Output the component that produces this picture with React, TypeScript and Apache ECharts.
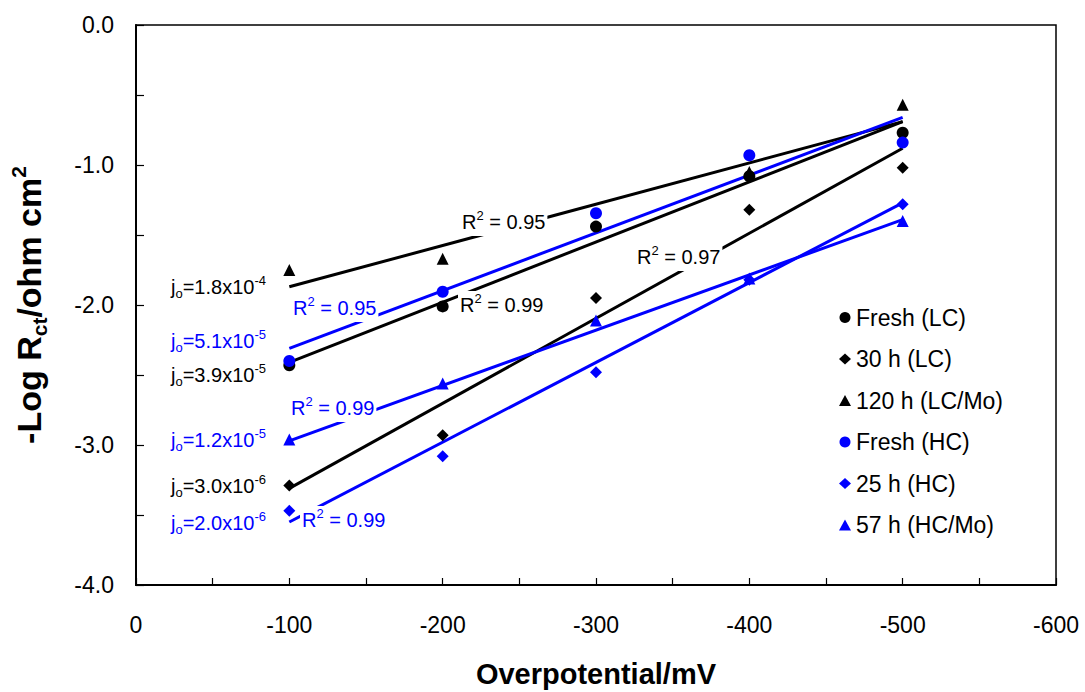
import React, { useEffect, useRef } from 'react';
import * as echarts from 'echarts';

// ---- data ----
const overpotential = [-100, -200, -300, -400, -500];
const freshLC = [-2.43, -2.01, -1.44, -1.08, -0.77];
const h30LC = [-3.29, -2.93, -1.95, -1.32, -1.02];
const h120LCMo = [-1.75, -1.67, null, -1.05, -0.57];
const freshHC = [-2.4, -1.905, -1.345, -0.93, -0.84];
const h25HC = [-3.47, -3.08, -2.48, -1.82, -1.28];
const h57HCMo = [-2.96, -2.56, -2.11, -1.81, -1.4];

// trendline end points (at -100 and -500 mV)
const fitX = [-100, -500];
const fitFreshLC = [-2.41, -0.69];
const fit30LC = [-3.31, -0.88];
const fit120LCMo = [-1.87, -0.69];
const fitFreshHC = [-2.31, -0.66];
const fit25HC = [-3.55, -1.27];
const fit57HCMo = [-2.97, -1.39];

const seriesNames = ['Fresh (LC)', '30 h (LC)', '120 h (LC/Mo)', 'Fresh (HC)', '25 h (HC)', '57 h (HC/Mo)'];
const seriesValues = [freshLC, h30LC, h120LCMo, freshHC, h25HC, h57HCMo];
const fitValues = [fitFreshLC, fit30LC, fit120LCMo, fitFreshHC, fit25HC, fit57HCMo];
const seriesSymbols = ['circle', 'diamond', 'triangle', 'circle', 'diamond', 'triangle'];
const BLACK = '#000000';
const BLUE = '#0000FF';
const seriesColors = [BLACK, BLACK, BLACK, BLUE, BLUE, BLUE];

// annotation texts (rich markup): b = subscript, p = superscript
const labelTexts = [
  '{n|j}{b|o}{n|=1.8x10}{p|-4}',
  '{n|j}{b|o}{n|=5.1x10}{p|-5}',
  '{n|j}{b|o}{n|=3.9x10}{p|-5}',
  '{n|j}{b|o}{n|=1.2x10}{p|-5}',
  '{n|j}{b|o}{n|=3.0x10}{p|-6}',
  '{n|j}{b|o}{n|=2.0x10}{p|-6}',
  '{n|R}{p|2}{n| = 0.95}',
  '{n|R}{p|2}{n| = 0.99}',
  '{n|R}{p|2}{n| = 0.97}',
  '{n|R}{p|2}{n| = 0.95}',
  '{n|R}{p|2}{n| = 0.99}',
  '{n|R}{p|2}{n| = 0.99}',
];
const labelColors = [BLACK, BLUE, BLACK, BLUE, BLACK, BLUE, BLACK, BLACK, BLACK, BLUE, BLUE, BLUE];
const labelPos = [
  [171, 287], [171, 341], [171, 375], [171, 440], [171, 486], [171, 523],
  [460, 222], [458, 305], [635, 257], [291, 308], [289, 408], [300, 520],
];

const FONT = '"Liberation Sans", Arial, Helvetica, sans-serif';

function richFor(color: string) {
  return {
    n: { fill: color, fontSize: 20, fontFamily: FONT, lineHeight: 26, verticalAlign: 'middle' },
    p: { fill: color, fontSize: 13, fontFamily: FONT, lineHeight: 12, verticalAlign: 'top' },
    b: { fill: color, fontSize: 13, fontFamily: FONT, lineHeight: 12, verticalAlign: 'bottom' },
  };
}

export default function App() {
  const ref = useRef<HTMLDivElement>(null);
  useEffect(() => {
    document.body.style.margin = '0';
    const chart = echarts.init(ref.current as HTMLDivElement, null, { renderer: 'svg' });

    const scatterSeries = seriesNames.map((name, i) => ({
      name,
      type: 'scatter',
      symbol: seriesSymbols[i],
      symbolSize: 12,
      z: 3,
      itemStyle: { color: seriesColors[i], opacity: 1 },
      data: overpotential
        .map((x, k) => [x, seriesValues[i][k]])
        .filter((p) => p[1] !== null),
    }));
    const fitSeries = seriesNames.map((name, i) => ({
      name: name + ' fit',
      type: 'line',
      symbol: 'none',
      showSymbol: false,
      silent: true,
      z: 2,
      lineStyle: { color: seriesColors[i], width: 3 },
      data: fitX.map((x, k) => [x, fitValues[i][k]]),
    }));

    const option = {
      animation: false,
      backgroundColor: '#ffffff',
      textStyle: { fontFamily: FONT },
      grid: {
        left: 136,
        right: 29,
        top: 25,
        bottom: 107,
        containLabel: false,
        outerBoundsMode: 'none',
        show: true,
        borderColor: '#000',
        borderWidth: 1.5,
        backgroundColor: 'transparent',
      },
      legend: {
        data: seriesNames,
        orient: 'vertical',
        left: 834,
        top: 301,
        itemWidth: 12,
        itemHeight: 11,
        itemGap: 18.5,
        symbolKeepAspect: true,
        textStyle: { fontSize: 23, fontFamily: FONT, color: '#000', lineHeight: 23 },
      },
      xAxis: {
        type: 'value',
        min: -600,
        max: 0,
        interval: 50,
        inverse: true,
        name: 'Overpotential/mV',
        nameLocation: 'middle',
        nameGap: 74,
        nameTextStyle: { fontSize: 29, fontWeight: 'bold', fontFamily: FONT, color: '#000' },
        axisLine: { show: true, onZero: false, lineStyle: { color: '#000', width: 2 } },
        axisTick: { show: true, inside: true, length: 7, lineStyle: { color: '#000', width: 1.2 } },
        axisLabel: {
          margin: 28,
          fontSize: 23,
          fontFamily: FONT,
          color: '#000',
          formatter: (v: number) => (v % 100 === 0 ? String(v) : ''),
        },
        splitLine: { show: false },
      },
      yAxis: {
        type: 'value',
        min: -4,
        max: 0,
        interval: 0.5,
        name: '{b|-Log R}{s|ct}{b|/ohm cm}{p|2}',
        nameLocation: 'middle',
        nameRotate: 90,
        nameGap: 86,
        nameTextStyle: {
          rich: {
            b: { fontSize: 34, fontWeight: 'bold', fontFamily: FONT, color: '#000', lineHeight: 42, verticalAlign: 'middle' },
            s: { fontSize: 21, fontWeight: 'bold', fontFamily: FONT, color: '#000', lineHeight: 21, verticalAlign: 'bottom' },
            p: { fontSize: 21, fontWeight: 'bold', fontFamily: FONT, color: '#000', lineHeight: 21, verticalAlign: 'top' },
          },
        },
        axisLine: { show: true, onZero: false, lineStyle: { color: '#000', width: 2 } },
        axisTick: { show: true, inside: true, length: 8, lineStyle: { color: '#000', width: 1.2 } },
        axisLabel: {
          margin: 22,
          fontSize: 23,
          fontFamily: FONT,
          color: '#000',
          formatter: (v: number) => (Math.abs(v - Math.round(v)) < 1e-9 ? v.toFixed(1) : ''),
        },
        splitLine: { show: false },
      },
      graphic: labelTexts.map((text, i) => ({
        type: 'text',
        x: labelPos[i][0],
        y: labelPos[i][1],
        z: 100,
        style: {
          text,
          fill: labelColors[i],
          align: 'left',
          verticalAlign: 'middle',
          backgroundColor: i >= 6 ? '#ffffff' : undefined,
          padding: i >= 6 ? [1, 2, 1, 2] : 0,
          rich: richFor(labelColors[i]),
        },
      })),
      series: [...fitSeries, ...scatterSeries],
    };
    chart.setOption(option as any);
    return () => chart.dispose();
  }, []);
  return (
    <div
      ref={ref}
      style={{ position: 'absolute', left: 0, top: 0, width: 1085, height: 692, background: '#fff' }}
    />
  );
}
